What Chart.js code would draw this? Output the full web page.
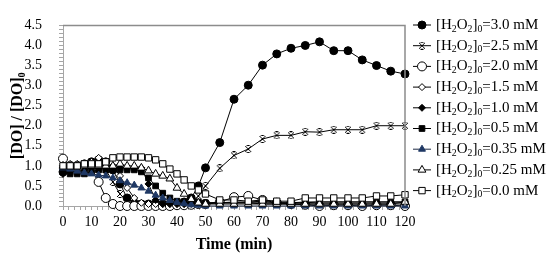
<!DOCTYPE html>
<html>
<head>
<meta charset="utf-8">
<script src="https://cdn.jsdelivr.net/npm/chart.js@4.4.0/dist/chart.umd.min.js"></script>
<style>
html, body { margin: 0; padding: 0; background: #fff; }
#wrap { width: 550px; height: 260px; position: relative; }
</style>
</head>
<body>
<div id="wrap"><canvas id="chart"></canvas></div>
<script>
// sampling times (min)
const times = [0, 2.5, 5, 7.5, 10, 12.5, 15, 17.5, 20, 22.5, 25, 27.5, 30, 32.5, 35, 37.5, 40, 42.5, 45, 47.5, 50,
    55, 60, 65, 70, 75, 80, 85, 90, 95, 100, 105, 110, 115, 120];

const doses = ['3.0', '2.5', '2.0', '1.5', '1.0', '0.5', '0.35', '0.25', '0.0'];

// [DO]/[DO]0 for each initial H2O2 dose
const h30 = [0.85, 0.95, 1.0, 1.05, 1.1, 1.15, 1.1, 0.9, 0.55, 0.2, 0.06, 0.05, 0.05, 0.05, 0.05, 0.05, 0.06, 0.1, 0.2, 0.5, 0.95,
    1.58, 2.66, 3.01, 3.51, 3.79, 3.93, 4.0, 4.09, 3.87, 3.87, 3.64, 3.5, 3.36, 3.29];
const h25 = [0.95, 1.0, 1.0, 1.0, 1.0, 1.0, 0.9, 0.6, 0.3, 0.1, 0.05, 0.03, 0.03, 0.03, 0.03, 0.03, 0.03, 0.03, 0.05, 0.25, 0.5,
    0.94, 1.26, 1.42, 1.67, 1.76, 1.76, 1.85, 1.84, 1.9, 1.9, 1.9, 2.0, 2.0, 2.0];
const h20 = [1.18, 1.0, 1.0, 0.95, 0.9, 0.6, 0.2, 0.05, 0.0, 0.0, 0.0, 0.0, 0.0, 0.0, 0.0, 0.0, 0.02, 0.02, 0.03, 0.05, 0.05,
    0.1, 0.22, 0.25, 0.15, 0.08, 0.05, 0.03, 0.0, 0.02, 0.02, 0.0, 0.02, 0.02, 0.0];
const h15 = [1.0, 1.05, 1.05, 1.05, 1.1, 1.2, 1.1, 1.0, 0.75, 0.45, 0.2, 0.08, 0.05, 0.05, 0.05, 0.05, 0.05, 0.05, 0.05, 0.05, 0.05,
    0.08, 0.08, 0.08, 0.05, 0.05, 0.05, 0.05, 0.05, 0.05, 0.05, 0.05, 0.05, 0.05, 0.05];
const h10 = [0.8, 0.85, 0.85, 0.9, 0.95, 1.0, 1.0, 0.95, 0.95, 0.95, 0.95, 0.95, 0.55, 0.15, 0.05, 0.05, 0.05, 0.05, 0.08, 0.08, 0.08,
    0.08, 0.08, 0.08, 0.08, 0.08, 0.08, 0.08, 0.1, 0.1, 0.1, 0.1, 0.1, 0.1, 0.1];
const h05 = [0.85, 0.8, 0.8, 0.8, 0.85, 0.9, 0.9, 0.9, 0.9, 0.9, 0.9, 0.85, 0.7, 0.5, 0.32, 0.2, 0.12, 0.1, 0.1, 0.1, 0.08,
    0.08, 0.1, 0.1, 0.12, 0.08, 0.08, 0.1, 0.1, 0.1, 0.1, 0.1, 0.1, 0.1, 0.1];
const h035 = [0.95, 0.92, 0.87, 0.83, 0.8, 0.77, 0.75, 0.7, 0.63, 0.58, 0.52, 0.45, 0.37, 0.27, 0.2, 0.14, 0.09, 0.06, 0.03, 0.02, 0.0,
    0.0, 0.0, 0.0, 0.0, 0.0, 0.0, 0.0, 0.0, 0.0, 0.0, 0.0, 0.0, 0.0, 0.0];
const h025 = [1.0, 1.0, 1.0, 1.0, 1.0, 1.0, 1.0, 1.0, 1.05, 1.0, 1.0, 0.95, 0.88, 0.8, 0.75, 0.68, 0.45, 0.3, 0.17, 0.08, 0.05,
    0.05, 0.05, 0.05, 0.05, 0.05, 0.05, 0.05, 0.05, 0.05, 0.05, 0.05, 0.05, 0.05, 0.1];
const h00 = [1.0, 1.0, 1.0, 1.05, 1.05, 1.05, 1.1, 1.2, 1.22, 1.22, 1.22, 1.22, 1.2, 1.15, 1.05, 0.92, 0.8, 0.65, 0.5, 0.4, 0.3,
    0.15, 0.15, 0.12, 0.15, 0.12, 0.12, 0.2, 0.2, 0.2, 0.2, 0.2, 0.25, 0.25, 0.28];

const FONT = '"Liberation Serif", "Times New Roman", serif';

// Excel-like star marker: an x with short bars top and bottom
function starMark() {
    const c = document.createElement('canvas');
    c.width = 8; c.height = 8;
    const g = c.getContext('2d');
    g.strokeStyle = '#000';
    g.lineWidth = 1;
    g.beginPath();
    g.moveTo(1, 1); g.lineTo(7, 7);
    g.moveTo(7, 1); g.lineTo(1, 7);
    g.moveTo(2.5, 0.5); g.lineTo(5.5, 0.5);
    g.moveTo(2.5, 7.5); g.lineTo(5.5, 7.5);
    g.stroke();
    return c;
}

function series(vals, style, radius, fill, line) {
    return {
        data: times.map((t, i) => ({ x: t, y: vals[i] })),
        borderColor: line || '#000',
        borderWidth: 1,
        pointStyle: style,
        pointRadius: radius,
        pointBackgroundColor: fill,
        pointBorderColor: '#000',
        pointBorderWidth: 1,
        tension: 0,
        clip: false
    };
}

const datasets = [
    series(h30, 'circle', 4, '#000'),
    series(h25, starMark(), 4, '#000'),
    series(h20, 'circle', 4.5, '#fff'),
    series(h15, 'rectRot', 3.5, '#fff'),
    series(h10, 'rectRot', 3.5, '#000'),
    series(h05, 'rect', 4, '#000'),
    series(h035, 'triangle', 4, '#1f3864', '#1f2a44'),
    series(h025, 'triangle', 4.5, '#fff'),
    series(h00, 'rect', 4.5, '#fff')
];
datasets.forEach((d, i) => { d.order = datasets.length - i; d.pointBorderColor = i === 6 ? '#1f3864' : '#000'; });

function richText(ctx, parts, x, y, size, bold) {
    let cx = x;
    parts.forEach(p => {
        const sub = Array.isArray(p);
        const t = sub ? p[0] : p;
        const fs = sub ? size * 0.65 : size;
        ctx.font = (bold ? 'bold ' : '') + fs + 'px ' + FONT;
        ctx.fillText(t, cx, y + (sub ? size * 0.28 : 0));
        cx += ctx.measureText(t).width;
    });
    return cx - x;
}

function richWidth(ctx, parts, size, bold) {
    let w = 0;
    parts.forEach(p => {
        const sub = Array.isArray(p);
        const t = sub ? p[0] : p;
        ctx.font = (bold ? 'bold ' : '') + (sub ? size * 0.65 : size) + 'px ' + FONT;
        w += ctx.measureText(t).width;
    });
    return w;
}

const decor = {
    id: 'decor',
    afterDraw(chart) {
        const ctx = chart.ctx;
        const a = chart.chartArea;
        ctx.save();
        // frame top and right
        ctx.strokeStyle = '#8c8c8c';
        ctx.lineWidth = 1.5;
        ctx.beginPath();
        ctx.moveTo(a.left, a.top);
        ctx.lineTo(a.right, a.top);
        ctx.lineTo(a.right, a.bottom);
        ctx.stroke();

        ctx.fillStyle = '#000';
        ctx.textBaseline = 'middle';
        // x title
        ctx.textAlign = 'center';
        ctx.font = 'bold 16px ' + FONT;
        ctx.fillText('Time (min)', (a.left + a.right) / 2, 245);

        // y title
        ctx.textAlign = 'left';
        const yt = ['[DO] / [DO]', ['0']];
        ctx.save();
        ctx.translate(18, (a.top + a.bottom) / 2);
        ctx.rotate(-Math.PI / 2);
        const w = richWidth(ctx, yt, 16, true);
        richText(ctx, yt, -w / 2, 0, 16, true);
        ctx.restore();

        // legend
        chart.data.datasets.forEach((ds, i) => {
            const y = 25 + i * 20.7;
            const x0 = 413, x1 = 431;
            ctx.strokeStyle = ds.borderColor;
            ctx.lineWidth = 1;
            ctx.beginPath();
            ctx.moveTo(x0, y);
            ctx.lineTo(x1, y);
            ctx.stroke();
            ctx.fillStyle = ds.pointBackgroundColor;
            ctx.strokeStyle = ds.pointBorderColor;
            Chart.helpers.drawPoint(ctx, { pointStyle: ds.pointStyle, radius: ds.pointRadius, borderWidth: 1, rotation: 0 }, (x0 + x1) / 2, y);
            ctx.fillStyle = '#000';
            richText(ctx, ['[H', ['2'], 'O', ['2'], ']', ['0'], '=' + doses[i] + ' mM'], 436, y, 15, false);
        });
        ctx.restore();
    }
};

new Chart(document.getElementById('chart'), {
    type: 'line',
    data: { datasets: datasets },
    options: {
        responsive: true,
        maintainAspectRatio: false,
        animation: false,
        layout: { padding: { top: 9, right: 145, left: 0, bottom: 0 } },
        plugins: { legend: { display: false }, tooltip: { enabled: false } },
        scales: {
            x: {
                type: 'linear',
                min: 0,
                max: 120,
                afterFit: s => { s.height = 54; },
                border: { color: '#a6a6a6' },
                grid: { drawOnChartArea: false, tickLength: 4, color: '#a6a6a6' },
                ticks: {
                    stepSize: 2,
                    autoSkip: false,
                    maxRotation: 0,
                    padding: 4,
                    color: '#000',
                    font: { family: FONT, size: 14 },
                    callback: v => (v % 10 === 0 ? v : '')
                }
            },
            y: {
                min: 0,
                max: 4.5,
                afterFit: s => { s.width = 63; },
                border: { color: '#a6a6a6' },
                grid: { drawOnChartArea: false, tickLength: 4, color: '#a6a6a6' },
                ticks: {
                    stepSize: 0.1,
                    autoSkip: false,
                    padding: 17,
                    color: '#000',
                    font: { family: FONT, size: 14 },
                    callback: v => (Math.round(v * 10) % 5 === 0 ? v.toFixed(1) : '')
                }
            }
        }
    },
    plugins: [decor]
});
</script>
</body>
</html>
